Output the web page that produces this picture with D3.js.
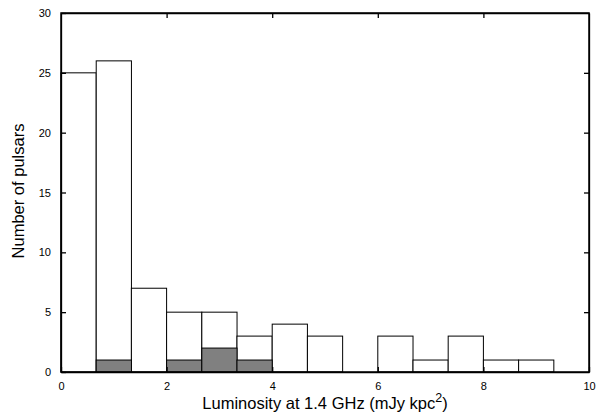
<!DOCTYPE html>
<html>
<head>
<meta charset="utf-8">
<script src="https://cdn.jsdelivr.net/npm/d3@7"></script>
<style>
  body { margin: 0; background: #fff; }
  text { font-family: "Liberation Sans", Arial, Helvetica, sans-serif; fill: #000; }
</style>
</head>
<body>
<div id="chart-area"></div>
<script>
// ---- data ----
// histogram bins of width 2/3, starting at 0
var binLeft = [0, 0.667, 1.333, 2, 2.667, 3.333, 4, 4.667, 5.333, 6, 6.667, 7.333, 8, 8.667];
var binWidth = 0.667;
var allPulsars = [25, 26, 7, 5, 5, 3, 4, 3, 0, 3, 1, 3, 1, 1];
var subsetPulsars = [0, 1, 0, 1, 2, 1, 0, 0, 0, 0, 0, 0, 0, 0];
var xTicks = [0, 2, 4, 6, 8, 10];
var yTicks = [0, 5, 10, 15, 20, 25, 30];

var margins = { left: 61, right: 12, top: 13, bottom: 41 };
var width = 601 - margins.left - margins.right;
var height = 413 - margins.top - margins.bottom;

var svg = d3.select("#chart-area")
    .append("svg")
    .attr("width", 601)
    .attr("height", 413);

var g = svg.append("g")
    .attr("transform", "translate(" + margins.left + "," + margins.top + ")");

var x = d3.scaleLinear().domain([0, 10]).range([0, width]);
var y = d3.scaleLinear().domain([0, 30]).range([height, 0]);

var bins = binLeft.map(function(d, i) {
    return { x0: d, x1: d + binWidth, all: allPulsars[i], sub: subsetPulsars[i] };
});

// white bars (all pulsars)
g.selectAll("rect.all")
    .data(bins.filter(function(d) { return d.all > 0; }))
    .enter()
    .append("rect")
    .attr("class", "all")
    .attr("x", function(d) { return x(d.x0); })
    .attr("y", function(d) { return y(d.all); })
    .attr("width", function(d) { return x(d.x1) - x(d.x0); })
    .attr("height", function(d) { return height - y(d.all); })
    .attr("fill", "#fff")
    .attr("stroke", "#000")
    .attr("stroke-width", 1);

// grey bars (subset)
g.selectAll("rect.sub")
    .data(bins.filter(function(d) { return d.sub > 0; }))
    .enter()
    .append("rect")
    .attr("class", "sub")
    .attr("x", function(d) { return x(d.x0); })
    .attr("y", function(d) { return y(d.sub); })
    .attr("width", function(d) { return x(d.x1) - x(d.x0); })
    .attr("height", function(d) { return height - y(d.sub); })
    .attr("fill", "#808080")
    .attr("stroke", "#000")
    .attr("stroke-width", 1);

// axes, ticks pointing inward, mirrored on top/right
var xAxisCall = d3.axisBottom(x).tickValues(xTicks).tickSizeInner(-5).tickSizeOuter(0).tickPadding(10);
var yAxisCall = d3.axisLeft(y).tickValues(yTicks).tickSizeInner(-5).tickSizeOuter(0).tickPadding(10);
var xTopCall = d3.axisTop(x).tickValues(xTicks.slice(1, -1)).tickSizeInner(-5).tickSizeOuter(0).tickFormat("");
var yRightCall = d3.axisRight(y).tickValues(yTicks.slice(1, -1)).tickSizeInner(-5).tickSizeOuter(0).tickFormat("");

g.append("g").attr("class", "x axis")
    .attr("transform", "translate(0," + height + ")")
    .call(xAxisCall);
g.append("g").attr("class", "y axis")
    .call(yAxisCall);
g.append("g").attr("class", "x2 axis")
    .call(xTopCall);
g.append("g").attr("class", "y2 axis")
    .attr("transform", "translate(" + width + ",0)")
    .call(yRightCall);

g.selectAll(".axis text")
    .style("font-family", "'Liberation Sans', Arial, sans-serif")
    .style("font-size", "11px");
g.selectAll(".axis path, .axis line")
    .attr("stroke", "#000")
    .attr("stroke-width", 1.3);

g.append("rect")
    .attr("x", 0).attr("y", 0)
    .attr("width", width).attr("height", height)
    .attr("fill", "none")
    .attr("stroke", "#000")
    .attr("stroke-width", 1.5);

// axis labels
var xl = g.append("text")
    .attr("x", width / 2)
    .attr("y", height + 37)
    .attr("text-anchor", "middle")
    .style("font-size", "16.5px");
xl.append("tspan").text("Luminosity at 1.4 GHz (mJy kpc");
xl.append("tspan").attr("dy", -7).style("font-size", "12.5px").text("2");
xl.append("tspan").attr("dy", 7).text(")");

g.append("text")
    .attr("transform", "rotate(-90)")
    .attr("x", -(191 - margins.top))
    .attr("y", 24 - margins.left)
    .attr("text-anchor", "middle")
    .style("font-size", "16.5px")
    .text("Number of pulsars");
</script>
</body>
</html>
